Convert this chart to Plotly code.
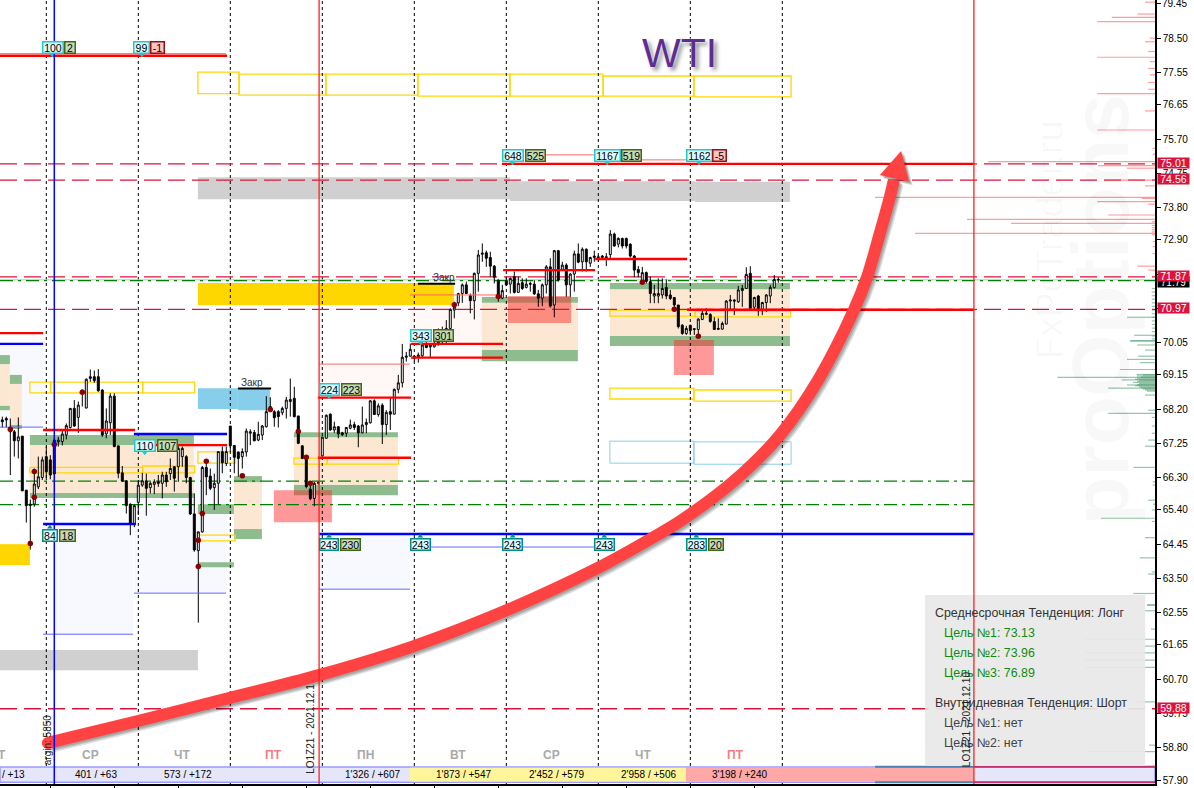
import plotly.graph_objects as go

# ---------- candles (price values) ----------
opens = [67.90,67.94,67.69,67.57,67.32,67.45,65.95,65.56,65.56,66.04,66.30,66.88,66.79,67.34,67.29,67.30,67.48,67.69,68.22,67.97,68.73,68.23,69.05,69.10,69.10,68.73,67.51,67.82,68.56,67.18,66.43,66.21,65.56,65.00,65.61,66.09,66.21,66.02,66.11,66.18,66.14,66.37,66.41,66.60,66.60,66.88,66.88,66.30,65.29,64.27,64.79,66.58,66.34,66.02,66.14,67.02,66.69,67.73,67.19,67.01,66.88,67.01,67.53,67.55,67.34,67.48,67.71,68.27,68.13,68.13,68.10,68.22,68.41,68.50,68.01,67.18,66.88,65.98,65.72,66.14,
66.90,67.39,68.06,67.62,67.71,67.54,67.53,67.67,67.77,67.73,67.54,67.77,67.82,68.43,68.05,68.31,67.77,68.13,68.06,68.75,68.93,69.64,69.67,69.67,69.65,69.68,69.98,69.98,69.93,69.98,70.07,70.38,70.44,70.95,71.15,71.41,71.65,71.35,71.21,71.97,72.50,72.54,72.41,72.17,71.78,71.28,71.77,71.67,71.88,71.44,71.71,71.58,71.69,71.67,71.40,71.28,71.65,72.15,71.09,72.60,72.08,72.20,71.65,71.95,72.51,
72.29,72.64,72.25,72.41,72.43,72.41,72.43,72.49,73.06,72.78,72.94,72.94,72.78,72.45,72.08,71.74,71.99,71.74,71.34,71.34,71.37,71.58,71.37,71.30,71.09,70.53,70.30,70.53,70.41,70.41,70.69,70.83,70.83,70.63,70.44,70.42,70.56,71.20,71.23,71.18,71.49,71.55,71.97,71.03,71.34,70.93,71.16,71.34,71.57,71.78]
highs = [67.99,67.99,67.94,67.62,67.97,67.45,65.95,65.69,66.55,66.88,66.88,67.16,66.92,67.39,67.43,67.62,67.80,68.22,68.45,68.41,68.73,69.05,69.30,69.27,69.31,68.75,68.22,68.64,68.64,67.18,66.62,66.23,65.58,65.54,66.23,66.43,66.41,66.18,66.25,66.37,66.46,66.46,66.83,66.62,67.20,67.16,66.92,66.32,65.86,64.80,66.62,66.74,66.55,66.41,67.02,67.16,67.16,67.73,67.19,67.02,67.11,67.66,67.64,67.62,67.85,67.76,68.56,68.53,68.17,68.17,68.27,68.54,69.05,68.82,68.01,67.20,66.88,66.14,66.18,66.20,
67.43,68.05,68.08,67.85,67.73,67.57,67.69,67.91,67.85,67.76,68.27,67.94,68.45,68.47,68.36,68.36,68.17,68.54,68.77,69.15,70.01,69.79,70.02,69.70,69.77,70.07,70.07,70.02,70.12,70.44,70.49,70.67,71.00,71.18,71.43,71.69,71.74,71.41,71.99,72.62,72.80,72.60,72.57,72.20,71.80,71.65,71.88,71.85,72.02,71.88,71.83,71.83,71.74,71.78,71.51,71.69,72.20,72.39,72.62,72.62,72.29,72.25,71.97,72.60,72.80,
72.69,72.66,72.43,72.60,72.48,72.48,72.53,73.17,73.10,72.97,72.96,72.96,72.80,72.48,72.17,72.15,72.02,71.88,71.65,71.83,71.83,71.80,71.51,71.30,71.09,70.56,70.51,70.53,70.44,70.72,70.95,71.00,70.86,70.75,70.72,70.63,71.23,71.37,71.25,71.62,71.65,72.14,72.17,71.32,71.37,71.18,71.39,71.65,71.92,71.86]
lows = [67.69,67.69,66.37,66.88,66.83,65.93,65.05,64.30,65.49,65.98,66.23,66.23,66.25,66.37,67.16,67.19,67.36,67.66,67.71,67.54,68.27,68.22,68.96,68.93,68.68,67.43,67.39,67.48,67.14,66.28,66.18,65.30,64.70,64.92,65.26,66.04,65.24,65.86,65.84,66.04,65.72,66.04,66.23,65.91,66.18,66.60,66.14,65.26,64.24,62.27,64.77,65.81,65.95,65.40,65.56,66.42,66.62,67.02,66.42,66.32,66.55,66.88,67.20,67.31,67.31,67.34,67.69,68.13,67.71,67.69,68.03,67.94,67.99,67.97,67.23,66.81,66.00,65.67,65.50,66.10,
66.88,67.39,67.60,67.54,67.39,67.45,67.43,67.64,67.62,67.14,67.53,67.53,67.80,68.04,67.99,67.23,67.48,67.62,68.05,68.64,68.80,69.52,69.65,69.52,69.49,69.65,69.89,69.64,69.91,69.98,70.02,70.02,70.41,70.72,71.06,71.15,71.40,70.86,70.69,71.46,72.29,72.15,71.88,71.69,71.18,71.25,71.62,71.41,71.41,71.43,71.51,71.55,71.46,71.37,71.04,71.06,71.41,71.02,70.75,71.74,72.04,71.32,71.32,71.46,72.25,
72.02,72.02,72.15,72.29,72.29,72.36,72.17,72.36,72.71,72.69,72.66,72.66,72.41,71.86,71.86,71.69,71.69,71.14,71.14,71.14,71.27,71.25,71.23,70.90,70.44,70.26,70.26,70.26,70.26,70.21,70.67,70.81,70.60,70.40,70.40,70.41,70.56,70.95,70.81,71.15,71.04,71.55,71.00,70.95,70.79,70.81,70.90,71.14,71.55,71.71]
closes = [67.85,67.90,67.57,67.32,67.43,65.93,65.52,65.53,66.12,66.32,66.79,66.46,66.37,66.40,67.34,67.51,67.74,68.22,67.73,68.31,68.64,69.03,69.10,68.99,68.71,67.48,67.87,68.56,67.16,66.42,66.20,65.52,65.00,65.52,66.09,66.21,66.00,66.14,66.18,66.14,66.37,66.18,66.55,66.28,67.11,67.11,66.30,65.29,64.29,64.79,66.58,66.32,66.00,66.14,67.02,66.71,67.02,67.18,66.86,66.83,67.02,67.59,67.57,67.32,67.50,67.73,68.13,68.13,67.96,67.99,68.22,68.45,68.47,67.99,67.25,66.83,66.05,65.71,66.14,66.16,
67.42,68.03,67.62,67.71,67.51,67.49,67.69,67.76,67.69,67.54,67.76,67.83,68.43,68.05,68.29,67.77,68.11,68.06,68.75,68.93,69.64,69.67,69.86,69.61,69.70,69.98,69.91,69.93,70.01,70.07,70.40,70.44,70.97,71.03,71.41,71.65,71.41,71.21,71.97,72.48,72.53,72.39,72.17,71.86,71.37,71.49,71.65,71.83,71.44,71.69,71.55,71.67,71.67,71.40,71.28,71.65,72.15,71.06,72.60,71.78,72.20,71.65,71.95,72.51,72.28,
72.64,72.29,72.41,72.45,72.41,72.45,72.36,73.06,72.73,72.94,72.73,72.73,72.45,72.06,71.99,71.99,71.74,71.41,71.41,71.41,71.55,71.34,71.27,71.09,70.49,70.30,70.44,70.38,70.43,70.70,70.86,70.86,70.63,70.41,70.42,70.58,71.20,71.23,71.20,71.51,71.55,71.94,71.00,71.30,70.93,71.16,71.37,71.58,71.80,71.80]
bars = list(range(len(opens)))

# ---------- reference levels ----------
crimson_levels = [75.01, 74.56, 71.87, 70.97, 59.88]
green_levels = [71.77, 66.20, 65.55]
green_level_ends = [288.175, 243.0, 243.0]
last_price = 71.79
day_starts = [11, 34, 57, 80, 103, 126, 149, 172, 195]
blue_cursor_bar = 13
red_cursor_bars = [79.2, 242.9]
price_ticks = [79.45,78.50,77.55,76.65,75.70,74.75,73.80,72.90,71.95,71.00,70.05,69.15,68.20,67.25,66.30,65.40,64.45,63.50,62.55,61.65,60.70,59.75,58.80,57.90]
hidden_price_ticks = [79.45, 71.95, 71.00]
bar_ticks = list(range(12, 189, 16))

# ---------- zones: (bar start, bar end, upper price, lower price) ----------
lavender_zones = [(-0.6,10.2,70.01,67.70),(12.9,32.7,65.01,61.95),(32.9,56.2,67.51,63.09),(79.2,101.9,64.73,63.20)]
pink_zones = [(79.2,101.9,69.45,68.51),(101.9,124.9,71.37,70.01)]
peach_zones = [(-0.6,1.9,69.45,68.29),(1.9,4.9,68.90,67.76),(6.9,47.9,67.20,65.87),(57.9,64.9,66.17,64.87),(72.9,98.9,67.42,66.09),(119.9,143.9,71.15,69.84),(151.9,196.9,71.53,70.23)]
green_zones = [(-0.6,1.9,69.70,69.45),(-0.6,1.9,68.29,68.17),(1.9,4.9,69.15,68.90),(1.9,4.9,67.76,67.65),(6.9,47.9,67.48,67.20),(6.9,47.9,65.87,65.73),(48.9,57.9,65.56,65.29),(48.9,57.9,63.95,63.81),(57.9,64.9,66.34,66.17),(57.9,64.9,64.87,64.59),(72.9,98.9,67.56,67.42),(72.9,98.9,66.09,65.81),(119.9,143.9,71.31,71.15),(119.9,143.9,69.84,69.53),(151.9,196.9,71.70,71.53),(151.9,196.9,70.23,69.95)]
red_zones = [(67.9,82.4,65.95,65.06),(126.4,142.2,71.34,70.59),(167.9,177.9,70.12,69.15)]
gold_zones = [(48.9,112.9,71.70,71.09),(-0.6,6.9,64.45,63.87)]
gray_zones = [(-0.6,48.9,61.51,60.95),(48.9,126.9,74.64,74.03),(126.9,173.2,74.53,73.98),(173.2,196.9,74.51,73.95)]
sky_zones = [(48.9,58.9,68.78,68.20),(58.9,66.9,68.76,68.17)]
yellow_boxes = [(48.9,59.2,77.56,76.96),(59.2,80.9,77.50,76.92),(80.9,103.9,77.50,76.92),(103.9,126.9,77.50,76.89),(126.9,150.2,77.50,76.89),(150.2,172.9,77.45,76.89),(172.9,197.2,77.45,76.87),
                (6.9,12.1,68.95,68.65),(12.1,35.1,68.95,68.65),(35.1,48.1,68.95,68.65),(6.9,35.1,66.58,66.43),(35.1,48.1,66.62,66.43),(48.9,58.2,67.01,66.70),(48.9,58.2,64.70,64.54),(72.9,81.2,66.84,66.67),(81.2,99.1,66.84,66.67),(151.9,173.2,70.95,70.78),(173.2,197.1,70.92,70.76),(151.9,172.9,68.78,68.48),(172.9,197.2,68.73,68.42)]
sky_boxes = [(151.9,172.9,67.31,66.70),(172.9,197.2,67.29,66.67)]

# ---------- horizontal segments: (price, bar start, bar end) ----------
thick_red = [(78.01,-0.6,56.2),(70.31,-0.6,10.2),(67.62,10.2,33.2),(67.20,33.2,56.2),(68.52,78.9,102.2),(66.85,78.9,102.2),(70.01,102.2,125.2),(69.63,102.2,125.2),(72.06,125.2,148.2),(72.37,148.2,171.2),(70.96,171.2,242.9),(75.01,124.9,242.9)]
thick_blue = [(70.01,-0.6,10.2),(65.01,10.2,33.4),(67.51,32.9,56.2),(64.73,79.2,242.9)]
thin_salmon = [(78.07,-0.6,55.9),(69.45,79.2,101.9),(71.37,101.9,124.4),(75.26,135.7,147.9),(75.12,159.9,171.2)]
thin_violet = [(67.70,-0.6,10.2),(61.95,10.2,32.7),(63.09,32.9,55.9),(63.20,79.2,101.9),(64.37,102.0,149.0)]
close_marks = [(68.77,58.9,67.2),(71.68,103.9,113.2)]

# ---------- dark-red markers ----------
dot_bars = [2,7,8,8,13,20,49,49,50,51,60,67,74,76,77,113,124,160,168,174]
dot_prices = [67.64,64.47,66.47,65.75,67.22,68.67,64.56,63.83,65.30,66.75,66.35,68.19,67.58,66.86,66.14,71.10,71.33,71.72,70.97,70.22]

# ---------- volume profile at the right edge: price, length in bars ----------
profile_red_prices = [79.50,79.17,79.08,78.96,78.50,78.40,78.13,77.97,77.85,77.66,77.48,77.27,77.08,76.96,76.48,75.95,75.44,75.28,75.07,74.96,74.89,74.56,74.40,74.08,74.05,73.96,73.89,73.59,73.47,73.40,73.36,73.30,73.24,73.18,73.12,73.08,73.04,72.85,72.71,72.52,72.17,72.06]
profile_red_lengths = [2.5,4.4,10.8,14.4,1.3,2.5,1.7,14.4,1.3,1.7,1.3,1.7,1.7,14.4,2.5,14.4,0.6,0.6,41.7,14.2,7,12.5,2.5,70,3.3,14.4,1.7,11.7,47,0.8,36,0.8,0.8,0.8,0.8,60,0.8,0.6,0.6,0.6,4.4,1.7]
profile_green_prices = [71.55,71.45,71.35,71.25,71.15,71.05,70.95,70.85,70.75,70.75,70.65,70.55,70.45,70.35,70.25,70.23,70.15,70.10,70.09,69.98,69.84,69.67,69.58,69.49,69.30,69.16,69.15,69.12,69.09,69.08,69.06,69.03,69.01,69.00,68.97,68.94,68.91,68.88,68.87,68.85,68.82,68.79,68.78,68.76,68.73,68.70,68.59,68.17,68.08,67.97,67.73,67.53,67.34,67.17,66.58,66.18,66.09,65.67,65.56,65.40,65.17,65.08,64.63,64.07,63.68,63.62,63.08,62.76,62.76,62.60,62.09,61.81,61.62,61.43,61.23,61.03,60.07,58.87,58.69]
profile_green_lengths = [0.8,0.8,0.8,0.8,0.8,0.8,0.8,0.8,7,0.8,0.8,0.8,0.8,0.8,5.2,0.8,0.8,6.2,6.2,4.4,2.5,4.2,7,3.8,8.8,4.6,3,4.5,3.5,24.4,4.5,5,8.3,4,4.5,5.5,4,4.5,7,5,4,3.5,11.7,3,2.5,2,2.5,1.7,11.7,0.8,0.8,0.8,1.7,2.5,5.4,0.6,0.6,1.7,0.5,0.8,13.5,0.8,2.5,3.8,0.8,1.7,5.4,2,2,2.5,1,17.5,3,17.5,17.5,17.5,5,1.5,17]

# ---------- big red arrow ----------
arrow_bars = [11.4,33.9,56.9,79.4,102.9,126.2,148.9,163.7,169.9,183.2,194.4,203.9,212.9,216.2,219.4,221.9,222.9]
arrow_prices = [58.93,59.54,60.18,60.82,61.62,62.62,63.79,64.70,65.12,66.23,67.48,69.00,70.95,71.87,73.09,74.09,74.56]
head_bars = [224.7,219.4,226.7,224.7]
head_prices = [75.37,74.70,74.51,75.37]

# ---------- small labels: text, bar, price, width ----------
top_labels = [("100",12.55,78.24,21),("99",34.9,78.24,16),("648",127.55,75.24,21),("1167",151.2,75.24,26),("1162",174.2,75.24,26),("224",81.7,68.74,20),("343",104.6,70.24,21),("110",35.6,67.19,21)]
under_labels = [("84",11.9,64.70,15),("243",81.7,64.45,19),("243",104.5,64.45,20),("243",127.6,64.45,20),("243",150.5,64.45,20),("283",173.5,64.45,20)]
green_labels = [("2",16.8,78.24,11),("525",133.2,75.24,20),("519",157.4,75.24,20),("223",87.2,68.74,20),("301",110.2,70.24,20),("107",41.2,67.19,20),("18",16.2,64.70,16),("230",87.1,64.45,20),("20",178.4,64.45,15)]
loss_labels = [("-1",38.9,78.24,14),("-5",179.4,75.24,14)]

# ---------- strip at the bottom ----------
strip_texts = ["/ +13","401 / +63","573 / +172","1'326 / +607","1'873 / +547","2'452 / +579","2'958 / +506","3'198 / +240"]
strip_bars = [2.7,23.5,46.3,92.5,115.4,138.6,161.6,184.4]
day_names = ["Т","СР","ЧТ","ПТ","ПН","ВТ","СР","ЧТ","ПТ"]
day_bars = [0,22.1,45,67.9,90.9,113.9,137.2,160.1,183.2]
day_colors = ["#a9a9a9","#a9a9a9","#a9a9a9","#f08080","#a9a9a9","#a9a9a9","#a9a9a9","#a9a9a9","#f08080"]

# ---------- info panel ----------
panel_lines = ["Среднесрочная Тенденция: Лонг","Цель №1: 73.13","Цель №2: 73.96","Цель №3: 76.89","Внутридневная Тенденция: Шорт","Цель №1: нет","Цель №2: нет"]
panel_prices = [62.54,61.98,61.43,60.87,60.04,59.48,58.93]
panel_bars = [232.7,234.9,234.9,234.9,232.7,234.9,234.9]
panel_colors = ["#333333","#118a11","#118a11","#118a11","#333333","#444444","#444444"]

XMIN, XMAX = -0.575, 288.175
YMIN, YMAX = 57.79, 79.56
FONT = "Liberation Sans"


def segments(items):
    xs, ys = [], []
    for price, a, b in items:
        xs += [a, b, None]
        ys += [price, price, None]
    return xs, ys


def profile(prices, lengths):
    xs, ys = [], []
    for p, n in zip(prices, lengths):
        xs += [XMAX - n, XMAX, None]
        ys += [p, p, None]
    return xs, ys


shapes = []


def fill_rects(zones, color):
    for a, b, top, bottom in zones:
        shapes.append(dict(type="rect", layer="below", x0=a, x1=b, y0=bottom, y1=top, fillcolor=color, line_width=0))


def outline_rects(zones, color, width):
    for a, b, top, bottom in zones:
        shapes.append(dict(type="rect", layer="below", x0=a, x1=b, y0=bottom, y1=top, fillcolor="rgba(0,0,0,0)", line=dict(color=color, width=width)))


fill_rects(lavender_zones, "#f8f8ff")
fill_rects(pink_zones, "#fff8f7")
fill_rects(peach_zones, "#fce8d2")
fill_rects(green_zones, "#8fbc8f")
fill_rects(gold_zones, "#ffd700")
fill_rects(gray_zones, "#d0d0d0")
fill_rects(sky_zones, "#87ceeb")
fill_rects(red_zones, "rgba(255,40,40,0.48)")
outline_rects(yellow_boxes, "#ffd700", 1.3)
outline_rects(sky_boxes, "#87ceeb", 1)

for d in day_starts:
    shapes.append(dict(type="line", layer="below", x0=d, x1=d, y0=YMIN, y1=YMAX, line=dict(color="black", width=1, dash="3px,3px")))
for lv in crimson_levels:
    shapes.append(dict(type="line", layer="below", x0=XMIN, x1=XMAX, y0=lv, y1=lv, line=dict(color="#dc143c", width=1.3, dash="17px,7px")))
shapes.append(dict(type="line", layer="below", x0=XMIN, x1=XMAX, y0=last_price, y1=last_price, line=dict(color="#c0c0c0", width=1)))
for lv, end in zip(green_levels, green_level_ends):
    shapes.append(dict(type="line", layer="below", x0=XMIN, x1=end, y0=lv, y1=lv, line=dict(color="#008000", width=1.3, dash="13px,5px,3px,5px")))

# bottom strip
shapes += [
    dict(type="rect", layer="below", x0=XMIN, x1=XMAX, y0=57.84, y1=58.26, fillcolor="#e6e6fa", line=dict(color="#9a9aff", width=1.5)),
    dict(type="rect", layer="below", x0=101.9, x1=170.9, y0=57.86, y1=58.24, fillcolor="#fff59a", line_width=0),
    dict(type="rect", layer="below", x0=170.9, x1=242.9, y0=57.86, y1=58.24, fillcolor="#ffa8a8", line_width=0),
    dict(type="line", layer="below", x0=218.2, x1=242.9, y0=58.27, y1=58.27, line=dict(color="#4682b4", width=2)),
    dict(type="line", layer="below", x0=218.2, x1=242.9, y0=57.84, y1=57.84, line=dict(color="#4682b4", width=2)),
    dict(type="line", layer="below", x0=242.9, x1=XMAX, y0=58.27, y1=58.27, line=dict(color="#c03070", width=2)),
    dict(type="line", layer="below", x0=242.9, x1=XMAX, y0=57.84, y1=57.84, line=dict(color="#c03070", width=2)),
]
# info panel, then the cursors above it
shapes.append(dict(type="rect", layer="above", x0=230.7, x1=285.7, y0=58.29, y1=63.04, fillcolor="rgba(232,232,232,0.93)", line_width=0))
shapes.append(dict(type="line", layer="above", x0=blue_cursor_bar, x1=blue_cursor_bar, y0=YMIN, y1=YMAX, line=dict(color="#0000ff", width=1.5)))
for c in red_cursor_bars:
    shapes.append(dict(type="line", layer="above", x0=c, x1=c, y0=YMIN, y1=YMAX, line=dict(color="#ff2020", width=1.3)))

fig = go.Figure()
fig.add_trace(go.Candlestick(
    x=bars, open=opens, high=highs, low=lows, close=closes, whiskerwidth=0, hoverinfo="skip", showlegend=False,
    increasing=dict(line=dict(color="black", width=1), fillcolor="white"),
    decreasing=dict(line=dict(color="black", width=1), fillcolor="black"),
))


def add_lines(xs, ys, color, width, **kw):
    fig.add_trace(go.Scatter(x=xs, y=ys, mode="lines", line=dict(color=color, width=width, **kw), hoverinfo="skip", showlegend=False))


x_, y_ = profile(profile_red_prices, profile_red_lengths)
add_lines(x_, y_, "rgba(255,90,90,0.6)", 1.2)
x_, y_ = profile(profile_green_prices, profile_green_lengths)
add_lines(x_, y_, "rgba(46,139,87,0.5)", 1.2)
x_, y_ = segments(thin_salmon)
add_lines(x_, y_, "#ff6666", 1)
x_, y_ = segments(thin_violet)
add_lines(x_, y_, "#6666ff", 1)
x_, y_ = segments(thick_blue)
add_lines(x_, y_, "#0000ff", 2.4)
x_, y_ = segments(thick_red)
add_lines(x_, y_, "#ff0000", 2.4)
x_, y_ = segments(close_marks)
add_lines(x_, y_, "black", 2)

fig.add_trace(go.Scatter(x=dot_bars, y=dot_prices, mode="markers", marker=dict(color="#8b0000", size=5.5), hoverinfo="skip", showlegend=False))

# label pointers
ptr_x = [l[1] for l in under_labels]
ptr_y = [l[2] + 0.22 for l in under_labels]
fig.add_trace(go.Scatter(x=ptr_x, y=ptr_y, mode="markers", marker=dict(symbol="triangle-up", color="#008b8b", size=5), hoverinfo="skip", showlegend=False))
ptr_x = [l[1] for l in top_labels]
ptr_y = [l[2] - 0.2 for l in top_labels]
fig.add_trace(go.Scatter(x=ptr_x, y=ptr_y, mode="markers", marker=dict(symbol="triangle-down", color="#20c8d0", size=5), hoverinfo="skip", showlegend=False))

# arrow with its soft shadow
for k, alpha in [(1.0, 0.12), (0.7, 0.14), (0.4, 0.14)]:
    add_lines([a + 0.9 * k for a in arrow_bars], [p - 0.1 * k for p in arrow_prices], "rgba(0,0,0,%.2f)" % alpha, 12, shape="spline")
    fig.add_trace(go.Scatter(x=[a + 0.9 * k for a in head_bars], y=[p - 0.1 * k for p in head_prices], mode="lines", fill="toself", fillcolor="rgba(0,0,0,%.2f)" % alpha, line=dict(width=0), hoverinfo="skip", showlegend=False))
add_lines(arrow_bars, arrow_prices, "#ff4242", 12, shape="spline")
fig.add_trace(go.Scatter(x=head_bars, y=head_prices, mode="lines", fill="toself", fillcolor="#ff4242", line=dict(width=0), hoverinfo="skip", showlegend=False))
fig.add_trace(go.Scatter(x=arrow_bars[:1], y=arrow_prices[:1], mode="markers", marker=dict(color="#ff4242", size=12), hoverinfo="skip", showlegend=False))

ann = []


def box_labels(items, fill, border):
    for text, b, p, w in items:
        ann.append(dict(x=b, y=p, text=text, showarrow=False, width=w - 2, height=10, borderpad=0, bgcolor=fill, bordercolor=border, borderwidth=1.5,
                        font=dict(family=FONT, size=10.5, color="black"), xanchor="center", yanchor="middle"))


box_labels(top_labels, "#dffbfb", "#20c8d0")
box_labels(under_labels, "#dffbfb", "#008b8b")
box_labels(green_labels, "#c6d9b8", "#3f6b10")
box_labels(loss_labels, "#f8c4c4", "#9b1010")

for t, b in zip(strip_texts, strip_bars):
    ann.append(dict(x=b, y=58.05, text=t, showarrow=False, font=dict(family=FONT, size=10, color="black")))
for t, b, c in zip(day_names, day_bars, day_colors):
    ann.append(dict(x=b, y=58.6, text="<b>%s</b>" % t, showarrow=False, font=dict(family=FONT, size=12, color=c)))
for t, b, p, c in zip(panel_lines, panel_bars, panel_prices, panel_colors):
    ann.append(dict(x=b, y=p, text=t, showarrow=False, xanchor="left", font=dict(family=FONT, size=12.4, color=c)))

# vertical captions
for t, b, p in [("LO1Z21 - 2021.12.1", 77.2, 58.02), ("LO1Z21 - 2021.12.10", 240.9, 58.2), ("argin: 5850", 11.2, 58.26)]:
    ann.append(dict(x=b, y=p, text=t, textangle=-90, showarrow=False, yanchor="bottom", font=dict(family=FONT, size=10, color="#222222")))

ann.append(dict(x=62.5, y=68.93, text="Закр", showarrow=False, font=dict(family=FONT, size=10, color="#333333")))
ann.append(dict(x=110.5, y=71.85, text="Закр", showarrow=False, font=dict(family=FONT, size=10, color="#333333")))

# title and watermark
ann.append(dict(x=169.4, y=78.09, text="WTI", showarrow=False, font=dict(family=FONT, size=41, color="#5e2d91", shadow="0 0 2px #fff, 3px 3px 4px #888")))
ann.append(dict(x=274.5, y=70.95, text="<b>proOptions</b>", textangle=-90, showarrow=False, font=dict(family=FONT, size=80, color="rgba(0,0,0,0.028)")))
ann.append(dict(x=261.9, y=72.9, text="FxPcTrader.ru", textangle=-90, showarrow=False, font=dict(family=FONT, size=38, color="rgba(0,0,0,0.028)")))

# top tick label sits on the page edge, so it is written beside its tick
ann.append(dict(x=XMAX, y=hidden_price_ticks[0], xshift=6, xanchor="left", text="%.2f" % hidden_price_ticks[0], showarrow=False, borderpad=0, font=dict(family=FONT, size=10, color="black")))

# price badges
ann.append(dict(x=XMAX, y=last_price, xshift=2, yshift=-2, xanchor="left", text="%.2f" % last_price, showarrow=False, width=31, height=10, borderpad=0, bgcolor="black", font=dict(family=FONT, size=10, color="white")))
for lv in crimson_levels:
    ann.append(dict(x=XMAX, y=lv, xshift=2, yshift=1, xanchor="left", text="%.2f" % lv, showarrow=False, width=31, height=10, borderpad=0, bgcolor="#dc143c", font=dict(family=FONT, size=10.5, color="white")))

tick_text = ["" if t in hidden_price_ticks else "%.2f" % t for t in price_ticks]
fig.update_layout(
    width=1194, height=788, margin=dict(l=0, r=39, t=0, b=4),
    paper_bgcolor="white", plot_bgcolor="white", shapes=shapes, annotations=ann, showlegend=False,
    xaxis=dict(range=[XMIN, XMAX], rangeslider=dict(visible=False), showgrid=False, zeroline=False, showline=True, linecolor="black", linewidth=1.5,
               tickmode="array", tickvals=bar_ticks, ticks="outside", ticklen=4, tickcolor="black", showticklabels=False),
    yaxis=dict(range=[YMIN, YMAX], side="right", showgrid=False, zeroline=False, showline=True, linecolor="black", linewidth=1.5,
               tickmode="array", tickvals=price_ticks, ticktext=tick_text, ticks="outside", ticklen=4, tickcolor="black",
               tickfont=dict(family=FONT, size=10, color="black")),
)
fig.write_html("out.html", config={"displayModeBar": False}, post_script="document.body.style.margin='0';")
